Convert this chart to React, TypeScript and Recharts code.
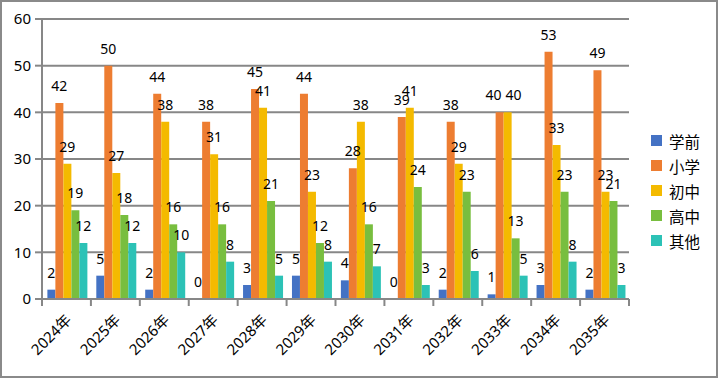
import React from 'react';
import { BarChart, Bar, XAxis, YAxis, CartesianGrid, LabelList } from 'recharts';

const years = ['2024年', '2025年', '2026年', '2027年', '2028年', '2029年', '2030年', '2031年', '2032年', '2033年', '2034年', '2035年'];
const preschool = [2, 5, 2, 0, 3, 5, 4, 0, 2, 1, 3, 2];
const primary = [42, 50, 44, 38, 45, 44, 28, 39, 38, 40, 53, 49];
const junior = [29, 27, 38, 31, 41, 23, 38, 41, 29, 40, 33, 23];
const senior = [19, 18, 16, 16, 21, 12, 16, 24, 23, 13, 23, 21];
const others = [12, 12, 10, 8, 5, 8, 7, 3, 6, 5, 8, 3];
const yTicks = [0, 10, 20, 30, 40, 50, 60];

const seriesNames = ['学前', '小学', '初中', '高中', '其他'];
const seriesKeys = ['s0', 's1', 's2', 's3', 's4'];
const seriesColors = ['#4472C4', '#ED7D31', '#F4BA00', '#78BE3F', '#2CC2B6'];
const seriesValues = [preschool, primary, junior, senior, others];

const data = years.map((y, i) => {
  const row: any = { year: y };
  seriesKeys.forEach((k, j) => {
    row[k] = seriesValues[j][i];
  });
  return row;
});

const W = 718;
const H = 378;
const M = { top: 19, right: 89, left: 0, bottom: 0 };
const Y_W = 42;
const X_H = 79;
const GRID = '#878787';
const FONT = '"Noto Sans", "Noto Sans CJK SC", sans-serif';
const band = (W - M.left - Y_W - M.right) / years.length;

const XTick = (props: any) => {
  const { x, y, payload, index } = props;
  const i = payload && payload.index != null ? payload.index : index;
  const last = i === years.length - 1;
  return (
    <g>
      <line x1={x - band / 2} x2={x - band / 2} y1={y} y2={y + 7} stroke={GRID} strokeWidth={2} />
      {last && <line x1={x + band / 2} x2={x + band / 2} y1={y} y2={y + 7} stroke={GRID} strokeWidth={2} />}
      <text
        x={0}
        y={0}
        transform={`translate(${x + 6},${y + 22}) rotate(-45)`}
        textAnchor="end"
        fontSize={15}
        fontFamily={FONT}
        fill="#000"
      >
        {payload.value}
      </text>
    </g>
  );
};

const makeLabel = (j: number) => (props: any) => {
  const { x, width, index } = props;
  const v = seriesValues[j][index];
  const yTop = props.y + (v === 0 ? props.height : 0);
  let dx = 0;
  if (j > 0 && Math.abs(v - seriesValues[j - 1][index]) < 1) dx += 6;
  if (j < seriesValues.length - 1 && Math.abs(v - seriesValues[j + 1][index]) < 1) dx -= 6;
  return (
    <text
      x={x + width / 2 + dx}
      y={yTop - 12}
      textAnchor="middle"
      fontSize={14}
      fontFamily={FONT}
      fill="#000"
    >
      {v}
    </text>
  );
};

export default function App() {
  return (
    <div style={{ position: 'fixed', left: 0, top: 0, width: W, height: H, background: '#fff' }}>
      <BarChart
        width={W}
        height={H}
        data={data}
        margin={M}
        barCategoryGap="11%"
        barGap={0}
      >
        <CartesianGrid vertical={false} stroke={GRID} strokeWidth={2} />
        <XAxis
          dataKey="year"
          xAxisId="main"
          height={X_H}
          interval={0}
          axisLine={{ stroke: GRID, strokeWidth: 2 }}
          tickLine={false}
          tickSize={0}
          tickMargin={0}
          tick={<XTick />}
        />
        <XAxis dataKey="year" xAxisId="labels" orientation="top" height={0} hide />
        <YAxis
          width={Y_W}
          domain={[0, 60]}
          ticks={yTicks}
          interval={0}
          axisLine={{ stroke: GRID, strokeWidth: 2 }}
          tickLine={{ stroke: GRID, strokeWidth: 2 }}
          tickSize={7}
          tickMargin={4}
          tick={{ fill: '#000', fontSize: 15, fontFamily: FONT }}
        />
        {seriesKeys.map((k, j) => (
          <Bar key={k} dataKey={k} xAxisId="main" fill={seriesColors[j]} isAnimationActive={false} />
        ))}
        {seriesKeys.map((k, j) => (
          <Bar key={'l' + k} dataKey={k} xAxisId="labels" fill="transparent" minPointSize={1} isAnimationActive={false}>
            <LabelList dataKey={k} content={makeLabel(j)} />
          </Bar>
        ))}
      </BarChart>
      <div style={{ position: 'absolute', left: 651, top: 128, fontFamily: FONT }}>
        {seriesNames.map((n, j) => (
          <div key={n} style={{ display: 'flex', alignItems: 'center', height: 25 }}>
            <div style={{ width: 11, height: 11, background: seriesColors[j], marginRight: 7 }} />
            <span style={{ fontSize: 15.5, color: '#000', fontFamily: '"Noto Sans CJK SC", sans-serif', lineHeight: '18px' }}>{n}</span>
          </div>
        ))}
      </div>
      <div
        style={{
          position: 'absolute',
          left: 0,
          top: 0,
          width: W,
          height: H,
          boxSizing: 'border-box',
          border: '2px solid #8a8a8a',
          pointerEvents: 'none',
        }}
      />
    </div>
  );
}
